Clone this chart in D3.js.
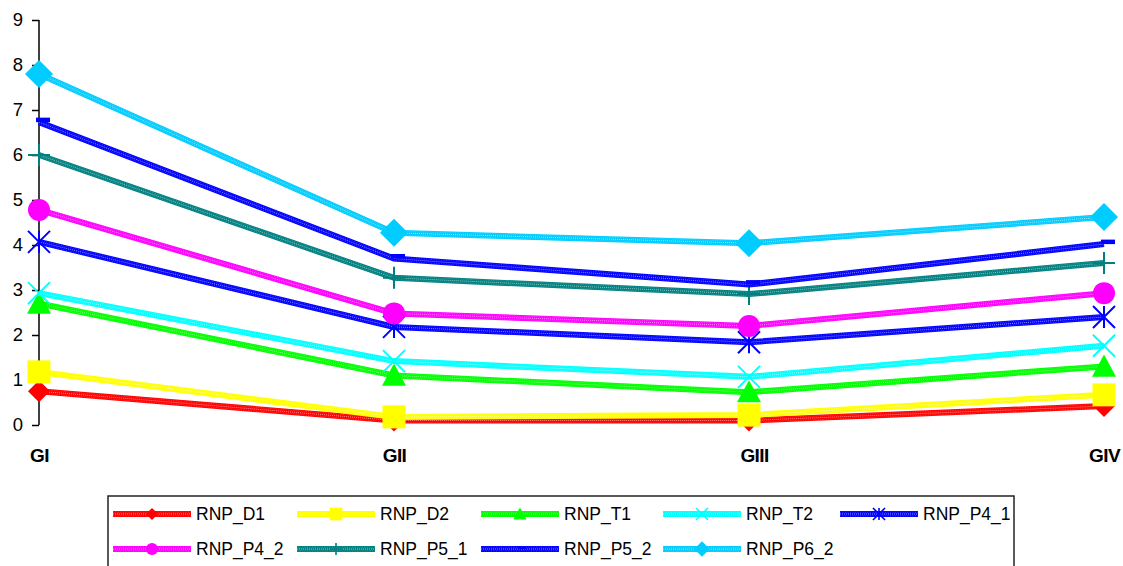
<!DOCTYPE html>
<html><head><meta charset="utf-8">
<script src="https://cdn.jsdelivr.net/npm/d3@7"></script>
<style>html,body{margin:0;padding:0;background:#fff;}svg{display:block;font-family:"Liberation Sans",Arial,sans-serif;}</style>
</head><body>
<svg id="c" width="1123" height="566"></svg>
<script>
const categories = ["GI","GII","GIII","GIV"];
const seriesNames = ["RNP_D1","RNP_D2","RNP_T1","RNP_T2","RNP_P4_1","RNP_P4_2","RNP_P5_1","RNP_P5_2","RNP_P6_2"];
const RNP_D1   = [0.75, 0.10, 0.10, 0.42];
const RNP_D2   = [1.18, 0.18, 0.22, 0.67];
const RNP_T1   = [2.70, 1.10, 0.73, 1.30];
const RNP_T2   = [2.93, 1.42, 1.07, 1.76];
const RNP_P4_1 = [4.07, 2.18, 1.84, 2.40];
const RNP_P4_2 = [4.78, 2.48, 2.20, 2.93];
const RNP_P5_1 = [6.00, 3.27, 2.91, 3.60];
const RNP_P5_2 = [6.73, 3.70, 3.12, 4.02];
const RNP_P6_2 = [7.80, 4.27, 4.04, 4.62];
const yTicks = [0,1,2,3,4,5,6,7,8,9];

const seriesValues = [RNP_D1,RNP_D2,RNP_T1,RNP_T2,RNP_P4_1,RNP_P4_2,RNP_P5_1,RNP_P5_2,RNP_P6_2];
const colors = ["#FF0000","#FFFF00","#00FF00","#00FFFF","#0000FF","#FF00FF","#008080","#0000FF","#00CCFF"];
const markers = ["diamond","square","triangle","x","asterisk","circle","plus","dash","bigdiamond"];

const svg = d3.select("#c");
const x = d3.scalePoint().domain(categories).range([39,1104]);
const y = d3.scaleLinear().domain([0,9]).range([425,20]);

// y axis
const yAxis = d3.axisLeft(y).tickValues(yTicks).tickSize(7).tickPadding(9);
const gy = svg.append("g").attr("transform","translate(39,0)").call(yAxis);
gy.select(".domain").attr("stroke","#000").attr("stroke-width",1.5).attr("d","M0,20V425");
gy.selectAll(".tick line").attr("stroke","#000").attr("stroke-width",1.5);
gy.selectAll(".tick text").attr("font-size","18.5px").attr("fill","#000").attr("font-family","Liberation Sans, Arial, sans-serif");

// x labels
const xAxis = d3.axisBottom(x).tickSize(0).tickPadding(0);
const gx = svg.append("g").attr("transform","translate(0,462)").call(xAxis);
gx.select(".domain").remove();
gx.selectAll(".tick text").attr("font-size","19px").attr("font-weight","bold").attr("fill","#000")
  .attr("font-family","Liberation Sans, Arial, sans-serif").attr("dy","0").attr("y",0)
  .attr("letter-spacing","-0.6px")
  .attr("text-anchor","middle")
  .attr("dx",(d,i)=> i===2 ? 5 : 0);

function drawMarker(g, type, cx, cy, color, s) {
  if (type === "diamond" || type === "bigdiamond") {
    const r = (type==="bigdiamond" ? 14 : 11) * s;
    g.append("path").attr("d",`M${cx},${cy-r}L${cx+r},${cy}L${cx},${cy+r}L${cx-r},${cy}Z`).attr("fill",color);
  } else if (type === "square") {
    const r = 11.5*s;
    g.append("rect").attr("x",cx-r).attr("y",cy-r).attr("width",2*r).attr("height",2*r).attr("fill",color);
  } else if (type === "triangle") {
    const r = 12*s;
    g.append("path").attr("d",`M${cx},${cy-r}L${cx+r},${cy+r*0.85}L${cx-r},${cy+r*0.85}Z`).attr("fill",color);
  } else if (type === "circle") {
    g.append("circle").attr("cx",cx).attr("cy",cy).attr("r",11*s).attr("fill",color);
  } else if (type === "x") {
    const r = 11*s;
    g.append("path").attr("d",`M${cx-r},${cy-r}L${cx+r},${cy+r}M${cx-r},${cy+r}L${cx+r},${cy-r}`)
      .attr("stroke",color).attr("stroke-width",2*Math.max(s,0.8)).attr("fill","none");
  } else if (type === "asterisk") {
    const r = 11*s;
    g.append("path").attr("d",`M${cx-r},${cy-r}L${cx+r},${cy+r}M${cx-r},${cy+r}L${cx+r},${cy-r}M${cx},${cy-r}L${cx},${cy+r}`)
      .attr("stroke",color).attr("stroke-width",2*Math.max(s,0.8)).attr("fill","none");
  } else if (type === "plus") {
    const r = 11*s;
    g.append("path").attr("d",`M${cx-r},${cy}L${cx+r},${cy}M${cx},${cy-r}L${cx},${cy+r}`)
      .attr("stroke",color).attr("stroke-width",2*Math.max(s,0.8)).attr("fill","none");
  } else if (type === "dash") {
    g.append("rect").attr("x",cx-3*s).attr("y",cy-4.5*s).attr("width",14*s).attr("height",4.5*s).attr("fill",color);
  }
}

function texturedLine(g, d, color) {
  g.append("path").attr("d",d).attr("fill","none").attr("stroke",color).attr("stroke-width",6);
  g.append("path").attr("d",d).attr("fill","none").attr("stroke","#fff").attr("stroke-opacity",0.55)
    .attr("stroke-width",1).attr("stroke-dasharray","1 1");
  g.append("path").attr("d",d).attr("fill","none").attr("stroke","#fff").attr("stroke-opacity",0.3)
    .attr("stroke-width",0.7).attr("stroke-dasharray","1 1.5").attr("transform","translate(0,-1.8)");
  g.append("path").attr("d",d).attr("fill","none").attr("stroke","#fff").attr("stroke-opacity",0.3)
    .attr("stroke-width",0.7).attr("stroke-dasharray","1 1.5").attr("transform","translate(0,1.8)");
}

const line = d3.line().x((d,i)=>x(categories[i])).y(d=>y(d));
const plot = svg.append("g");
seriesValues.forEach((vals, si) => {
  const g = plot.append("g");
  texturedLine(g, line(vals), colors[si]);
  vals.forEach((v,i) => drawMarker(g, markers[si], x(categories[i]), y(v), colors[si], 1));
});

// legend
const lg = svg.append("g");
lg.append("rect").attr("x",108).attr("y",496).attr("width",906).attr("height",90)
  .attr("fill","none").attr("stroke","#222").attr("stroke-width",1.5);
const colX = [113,297,481,663,840];
const rowY = [514,549];
seriesNames.forEach((name, si) => {
  const c = si % 5, r = Math.floor(si/5);
  const x0 = colX[c], x1 = x0 + 78, yy = rowY[r];
  const g = lg.append("g");
  texturedLine(g, `M${x0},${yy}L${x1},${yy}`, colors[si]);
  drawMarker(g, markers[si], (x0+x1)/2, yy, colors[si], 0.55);
  g.append("text").attr("x",x1+5).attr("y",yy).attr("dy","0.36em").attr("font-size","17.5px").attr("fill","#000")
    .text(name);
});
</script>
</body></html>
